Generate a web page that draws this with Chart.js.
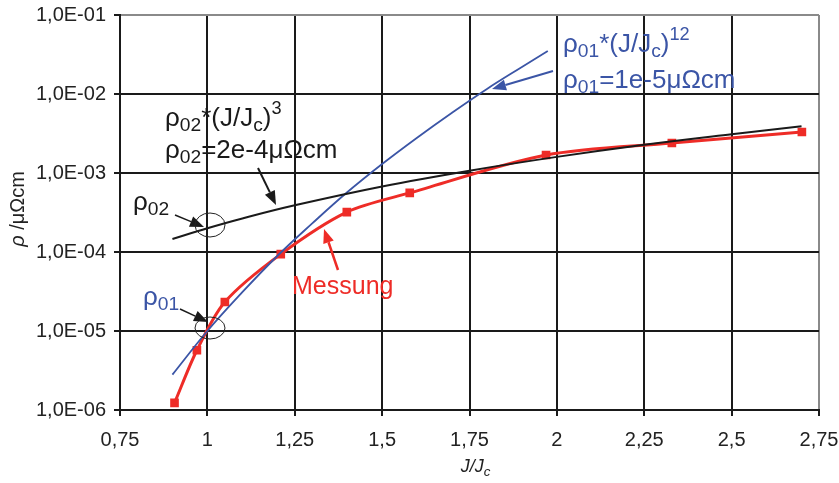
<!DOCTYPE html>
<html>
<head>
<meta charset="utf-8">
<script src="https://cdn.jsdelivr.net/npm/chart.js@4"></script>
<style>
  html, body { margin: 0; padding: 0; background: #fff; }
  #wrap { width: 839px; height: 483px; }
</style>
</head>
<body>
<div id="wrap"><canvas id="rhoChart" width="839" height="483"></canvas></div>
<script>
// measured resistivity (Messung)
var messJ   = [0.906, 0.970, 1.050, 1.210, 1.399, 1.579, 1.969, 2.329, 2.701];
var messRho = [1.23e-6, 5.7e-6, 2.33e-5, 9.4e-5, 3.2e-4, 5.6e-4, 1.69e-3, 2.4e-3, 3.3e-3];

// rho02*(J/Jc)^3 curve
var fit3J   = [0.9, 1.0, 1.1, 1.25, 1.5, 1.75, 2.0, 2.25, 2.5, 2.7];
var fit3Rho = [1.46e-4, 2.0e-4, 2.66e-4, 3.9e-4, 6.75e-4, 1.07e-3, 1.6e-3, 2.28e-3, 3.1e-3, 3.9e-3];

// rho01*(J/Jc)^12 curve
var fit12J   = [0.9, 1.0, 1.1, 1.2, 1.3, 1.4, 1.5, 1.6, 1.7, 1.8, 1.9, 1.974];
var fit12Rho = [2.8e-6, 1.0e-5, 3.1e-5, 8.9e-5, 2.3e-4, 5.7e-4, 1.3e-3, 2.8e-3, 5.8e-3, 1.16e-2, 2.2e-2, 3.5e-2];

var yTicks = [1e-6, 1e-5, 1e-4, 1e-3, 1e-2, 1e-1];
var yTickLabels = ['1,0E-06', '1,0E-05', '1,0E-04', '1,0E-03', '1,0E-02', '1,0E-01'];
var xTickLabels = ['0,75', '1', '1,25', '1,5', '1,75', '2', '2,25', '2,5', '2,75'];

var FONT = '"Liberation Sans", Arial, sans-serif';
var RED = '#ee2c27';
var BLUE = '#3b55a6';
var INK = '#1a1a1a';

function points(xs, ys) {
    return xs.map(function (x, i) { return { x: x, y: ys[i] }; });
}

// draws text with sub/superscript pieces
function richText(ctx, parts, x, y, size, color) {
    ctx.fillStyle = color;
    ctx.textBaseline = 'alphabetic';
    ctx.textAlign = 'left';
    parts.forEach(function (p) {
        var s = size, dy = 0;
        if (p.sub) { s = size * 0.74; dy = size * 0.2; }
        if (p.sup) { s = size * 0.7; dy = -size * 0.45; }
        ctx.font = (p.italic ? 'italic ' : '') + s + 'px ' + FONT;
        ctx.fillText(p.t, x, y + dy);
        x += ctx.measureText(p.t).width;
    });
    return x;
}

function textWidth(ctx, parts, size) {
    var w = 0;
    parts.forEach(function (p) {
        var s = (p.sub || p.sup) ? size * 0.74 : size;
        ctx.font = (p.italic ? 'italic ' : '') + s + 'px ' + FONT;
        w += ctx.measureText(p.t).width;
    });
    return w;
}

function arrow(ctx, x1, y1, x2, y2, color, width) {
    var a = Math.atan2(y2 - y1, x2 - x1);
    var len = 14, half = 5.5;
    var bx = x2 - len * Math.cos(a), by = y2 - len * Math.sin(a);
    ctx.strokeStyle = color;
    ctx.fillStyle = color;
    ctx.lineWidth = width;
    ctx.beginPath();
    ctx.moveTo(x1, y1);
    ctx.lineTo(bx, by);
    ctx.stroke();
    ctx.beginPath();
    ctx.moveTo(x2, y2);
    ctx.lineTo(bx + half * Math.sin(a), by - half * Math.cos(a));
    ctx.lineTo(bx - half * Math.sin(a), by + half * Math.cos(a));
    ctx.closePath();
    ctx.fill();
}

function ellipse(ctx, cx, cy, rx, ry) {
    ctx.strokeStyle = '#222';
    ctx.lineWidth = 1;
    ctx.beginPath();
    ctx.ellipse(cx, cy, rx, ry, 0, 0, Math.PI * 2);
    ctx.stroke();
}

var notes = {
    id: 'notes',
    afterDraw: function (chart) {
        var ctx = chart.ctx;
        var area = chart.chartArea;
        ctx.save();

        // axis titles
        var xt = [{ t: 'J/J', italic: true }, { t: 'c', sub: true, italic: true }];
        richText(ctx, xt, (area.left + area.right) / 2 + 6 - textWidth(ctx, xt, 18) / 2, 472, 18, '#222');

        ctx.save();
        ctx.translate(24, 209);
        ctx.rotate(-Math.PI / 2);
        var yt = [{ t: 'ρ', italic: true }, { t: ' /μΩcm' }];
        richText(ctx, yt, -textWidth(ctx, yt, 20) / 2, 0, 20, '#222');
        ctx.restore();

        // black fit label
        richText(ctx, [{ t: 'ρ' }, { t: '02', sub: true }, { t: '*' }, { t: '(J/J' }, { t: 'c', sub: true }, { t: ')' }, { t: '3', sup: true }],
            165, 126, 26, INK);
        richText(ctx, [{ t: 'ρ' }, { t: '02', sub: true }, { t: '=2e-4μΩcm' }], 165, 158, 26, INK);
        arrow(ctx, 258, 168, 276, 205, INK, 2);

        richText(ctx, [{ t: 'ρ' }, { t: '02', sub: true }], 133, 210, 26, INK);
        arrow(ctx, 175, 215, 204, 227, INK, 1.5);
        ellipse(ctx, 210, 225, 15, 12);

        // blue fit label
        richText(ctx, [{ t: 'ρ' }, { t: '01', sub: true }, { t: '*' }, { t: '(J/J' }, { t: 'c', sub: true }, { t: ')' }, { t: '12', sup: true }],
            563, 52, 26, BLUE);
        richText(ctx, [{ t: 'ρ' }, { t: '01', sub: true }, { t: '=1e-5μΩcm' }], 563, 88, 26, BLUE);
        arrow(ctx, 553, 71, 492, 89, BLUE, 2);

        richText(ctx, [{ t: 'ρ' }, { t: '01', sub: true }], 143, 305, 26, BLUE);
        arrow(ctx, 180, 309, 208, 322, INK, 1.5);
        ellipse(ctx, 210, 328, 15, 11);

        // measurement label
        richText(ctx, [{ t: 'Messung' }], 292, 294, 25, RED);
        arrow(ctx, 338, 270, 324, 229, RED, 2.5);

        ctx.restore();
    }
};

new Chart(document.getElementById('rhoChart').getContext('2d'), {
    type: 'scatter',
    data: {
        datasets: [{
            label: 'rho02',
            data: points(fit3J, fit3Rho),
            showLine: true,
            borderColor: INK,
            borderWidth: 2,
            pointRadius: 0,
            tension: 0.4
        }, {
            label: 'rho01',
            data: points(fit12J, fit12Rho),
            showLine: true,
            borderColor: BLUE,
            borderWidth: 1.8,
            pointRadius: 0,
            tension: 0.4
        }, {
            label: 'Messung',
            data: points(messJ, messRho),
            showLine: true,
            borderColor: RED,
            backgroundColor: RED,
            borderWidth: 3,
            pointStyle: 'rect',
            pointRadius: 4,
            tension: 0.3
        }]
    },
    options: {
        responsive: false,
        animation: false,
        layout: { padding: { top: 15, right: 20, left: 0, bottom: 0 } },
        plugins: { legend: { display: false }, tooltip: { enabled: false } },
        scales: {
            x: {
                type: 'linear',
                min: 0.75,
                max: 2.75,
                ticks: {
                    stepSize: 0.25,
                    color: '#222',
                    font: { family: FONT, size: 20 },
                    padding: 12,
                    maxRotation: 0,
                    callback: function (v, i) { return xTickLabels[i]; }
                },
                grid: {
                    color: function (c) { return c.tick && c.tick.value === 2.75 ? '#8a8a8a' : INK; },
                    lineWidth: 2,
                    tickLength: 6,
                    tickColor: INK
                },
                border: { color: INK, width: 2 },
                afterFit: function (s) {
                    s.height = 73;
                    s.paddingLeft = 0;
                    s.paddingRight = 0;
                }
            },
            y: {
                type: 'logarithmic',
                min: 1e-6,
                max: 1e-1,
                afterBuildTicks: function (s) {
                    s.ticks = yTicks.map(function (v) { return { value: v }; });
                },
                ticks: {
                    color: '#222',
                    font: { family: FONT, size: 20 },
                    padding: 8,
                    callback: function (v, i) { return yTickLabels[i]; }
                },
                grid: {
                    color: function (c) { return c.tick && c.tick.value === 0.1 ? '#8a8a8a' : INK; },
                    lineWidth: 2,
                    tickLength: 6,
                    tickColor: INK
                },
                border: { color: INK, width: 2 },
                afterFit: function (s) {
                    s.width = 120;
                    s.paddingTop = 0;
                    s.paddingBottom = 0;
                }
            }
        }
    },
    plugins: [notes]
});
</script>
</body>
</html>
